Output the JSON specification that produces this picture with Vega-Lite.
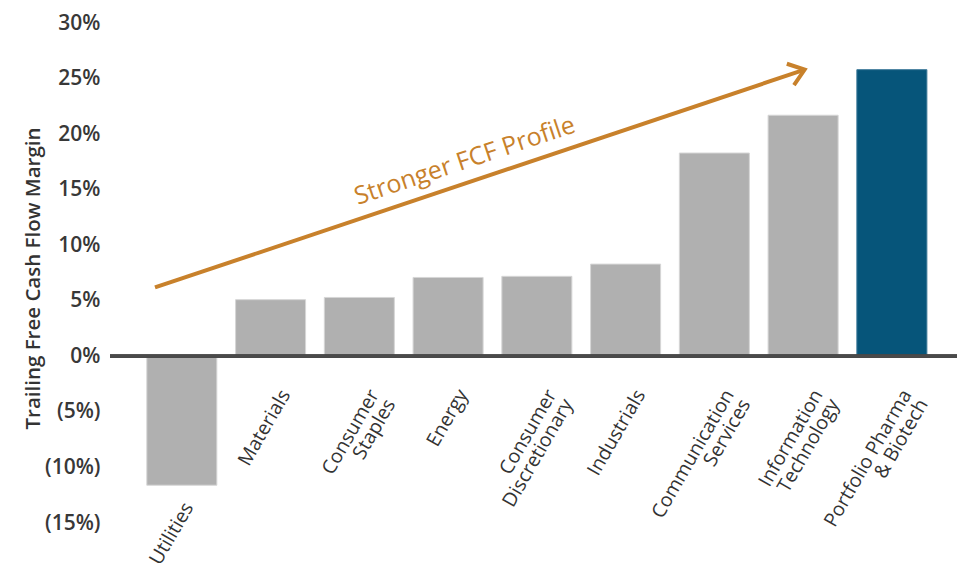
{
  "$schema": "https://vega.github.io/schema/vega-lite/v6.json",
  "width": 847,
  "height": 500,
  "autosize": "none",
  "padding": {"left": 110, "top": 23, "right": 23, "bottom": 60},
  "background": "white",
  "config": {"view": {"stroke": null}, "font": "Open Sans"},
  "datasets": {
    "sectors": [
      {"sector": "Utilities", "label": "Utilities", "value": -11.6, "group": "Sector"},
      {"sector": "Materials", "label": "Materials", "value": 5.1, "group": "Sector"},
      {"sector": "Consumer Staples", "label": "Consumer\nStaples", "value": 5.3, "group": "Sector"},
      {"sector": "Energy", "label": "Energy", "value": 7.1, "group": "Sector"},
      {"sector": "Consumer Discretionary", "label": "Consumer\nDiscretionary", "value": 7.2, "group": "Sector"},
      {"sector": "Industrials", "label": "Industrials", "value": 8.3, "group": "Sector"},
      {"sector": "Communication Services", "label": "Communication\nServices", "value": 18.3, "group": "Sector"},
      {"sector": "Information Technology", "label": "Information\nTechnology", "value": 21.7, "group": "Sector"},
      {"sector": "Portfolio Pharma & Biotech", "label": "Portfolio Pharma\n& Biotech", "value": 25.8, "group": "Portfolio"}
    ],
    "arrow": [{"x0": 0.09, "y0": 6.2, "x1": 7.41, "y1": 25.8}],
    "note": [{"x": 3.58, "y": 17.6, "text": "Stronger FCF Profile"}]
  },
  "resolve": {"scale": {"x": "independent"}},
  "layer": [
    {
      "data": {"name": "sectors"},
      "encoding": {
        "x": {"field": "sector", "type": "nominal", "sort": null,
              "scale": {"paddingInner": 0.211, "paddingOuter": 0.377, "align": 0.55},
              "axis": null}
      },
      "layer": [
        {
          "mark": {"type": "bar", "strokeWidth": 1},
          "encoding": {
            "y": {"field": "value", "type": "quantitative",
                  "scale": {"domain": [-15, 30], "nice": false},
                  "axis": {
                    "title": "Trailing Free Cash Flow Margin",
                    "values": [-15, -10, -5, 0, 5, 10, 15, 20, 25, 30],
                    "labelExpr": "datum.value < 0 ? '(' + abs(datum.value) + '%)' : datum.value + '%'",
                    "domain": false, "ticks": false, "grid": false,
                    "labelFontSize": 21, "labelFontWeight": 600, "labelColor": "#383838",
                    "labelPadding": 10,
                    "titleFontSize": 20.5, "titleFontWeight": 600, "titleColor": "#333333",
                    "titleX": -77, "titleY": 255, "titleAlign": "center", "titleBaseline": "middle", "titleAngle": 270
                  }},
            "color": {"field": "group", "type": "nominal",
                      "scale": {"domain": ["Sector", "Portfolio"], "range": ["#b0b0b0", "#06557a"]},
                      "legend": null},
            "stroke": {"field": "group", "type": "nominal",
                       "scale": {"domain": ["Sector", "Portfolio"], "range": ["#d6d6d6", "#3d7a99"]},
                       "legend": null}
          }
        },
        {
          "mark": {"type": "rule", "color": "#4a4a4a", "strokeWidth": 3},
          "encoding": {"y": {"datum": 0}, "x": null}
        },
        {
          "transform": [{"filter": "datum.value >= 0"}],
          "mark": {"type": "text", "angle": -60, "align": "right", "baseline": "middle",
                   "fontSize": 19.5, "color": "#333333", "lineBreak": "\n", "lineHeight": 19,
                   "xOffset": 15, "yOffset": 35},
          "encoding": {"y": {"datum": 0}, "text": {"field": "label"}}
        },
        {
          "transform": [{"filter": "datum.value < 0"}],
          "mark": {"type": "text", "angle": -60, "align": "right", "baseline": "middle",
                   "fontSize": 19.5, "color": "#333333", "lineBreak": "\n", "lineHeight": 19,
                   "xOffset": 7, "yOffset": 19},
          "encoding": {"y": {"field": "value", "type": "quantitative"}, "text": {"field": "label"}}
        }
      ]
    },
    {
      "layer": [
        {
          "data": {"name": "arrow"},
          "mark": {"type": "rule", "color": "#c8812b", "strokeWidth": 4},
          "encoding": {
            "x": {"field": "x0", "type": "quantitative", "scale": {"domain": [-0.417, 9.127], "nice": false, "zero": false}, "axis": null},
            "x2": {"field": "x1"},
            "y": {"field": "y0", "type": "quantitative"},
            "y2": {"field": "y1"}
          }
        },
        {
          "data": {"name": "arrow"},
          "mark": {"type": "point", "shape": "M -1 -0.75 L 0 0 L -1 0.75", "angle": -18.5,
                   "size": 900, "filled": false, "stroke": "#c8812b", "strokeWidth": 4, "opacity": 1,
                   "strokeJoin": "miter", "strokeCap": "butt"},
          "encoding": {
            "x": {"field": "x1", "type": "quantitative", "scale": {"domain": [-0.417, 9.127], "nice": false, "zero": false}, "axis": null},
            "y": {"field": "y1", "type": "quantitative"}
          }
        },
        {
          "data": {"name": "note"},
          "mark": {"type": "text", "angle": -18.5, "align": "center", "baseline": "middle",
                   "fontSize": 25, "color": "#c8812b"},
          "encoding": {
            "x": {"field": "x", "type": "quantitative", "scale": {"domain": [-0.417, 9.127], "nice": false, "zero": false}, "axis": null},
            "y": {"field": "y", "type": "quantitative"},
            "text": {"field": "text"}
          }
        }
      ]
    }
  ]
}
